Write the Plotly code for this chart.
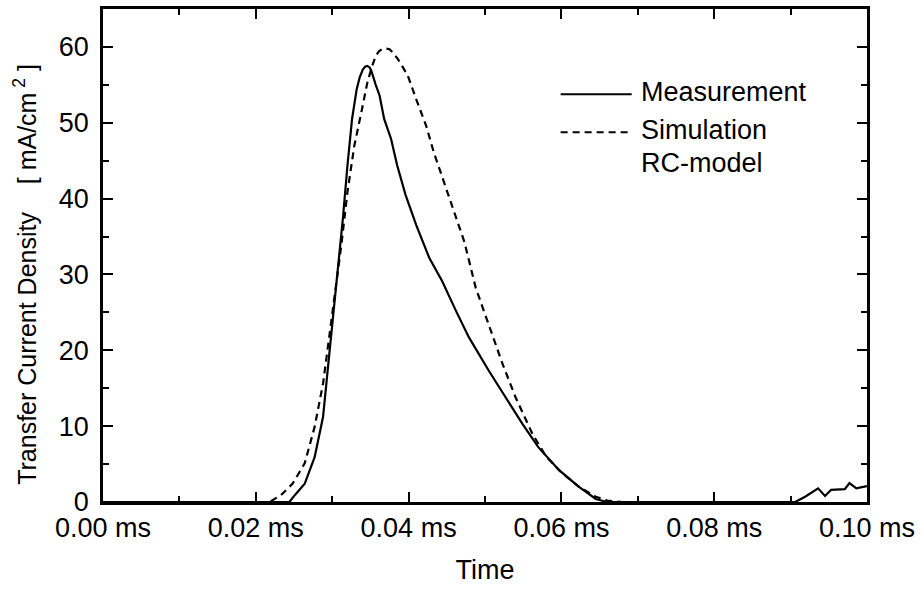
import plotly.graph_objects as go

# Measurement (time in ms, current density in mA/cm^2)
meas_t = [0.0, 0.0244, 0.0251, 0.0264, 0.0277, 0.0288, 0.0294, 0.0301, 0.0309, 0.0314,
          0.0320, 0.0326, 0.0332, 0.0336, 0.0340, 0.0343, 0.0346, 0.0349, 0.0351, 0.0353,
          0.0357, 0.0362, 0.0368, 0.0377, 0.0385, 0.0396, 0.0410, 0.0427, 0.0444, 0.0462,
          0.0479, 0.0505, 0.0527, 0.0549, 0.0570, 0.0597, 0.0623, 0.0645, 0.0660, 0.0906,
          0.0919, 0.0927, 0.0936, 0.0945, 0.0953, 0.0971, 0.0977, 0.0986, 0.1000]
meas_y = [0.0, 0.0, 0.9, 2.4, 5.9, 11.2, 17.3, 24.3, 33.0, 37.4,
          44.4, 50.5, 54.4, 56.0, 57.0, 57.4, 57.5, 57.3, 56.9, 56.2,
          55.0, 53.6, 50.5, 47.9, 44.4, 40.5, 36.5, 32.2, 29.1, 25.2,
          21.7, 17.3, 13.8, 10.3, 7.2, 4.2, 2.0, 0.4, 0.0, 0.0,
          0.7, 1.2, 1.8, 0.8, 1.6, 1.7, 2.5, 1.8, 2.1]

# Simulation RC-model
sim_t = [0.0, 0.0218, 0.0233, 0.0248, 0.0264, 0.0277, 0.0288, 0.0296, 0.0312, 0.0320,
         0.0329, 0.0339, 0.0346, 0.0352, 0.0357, 0.0361, 0.0365, 0.0370, 0.0375, 0.0380,
         0.0386, 0.0392, 0.0399, 0.0410, 0.0423, 0.0433, 0.0446, 0.0460, 0.0473, 0.0488,
         0.0505, 0.0523, 0.0540, 0.0562, 0.0580, 0.0600, 0.0623, 0.0645, 0.0660, 0.0680,
         0.0700]
sim_y = [0.0, 0.0, 0.9, 2.4, 5.1, 9.9, 15.6, 21.7, 33.9, 40.9,
         47.0, 51.8, 55.3, 57.4, 58.8, 59.4, 59.7, 59.8, 59.7, 59.2,
         58.4, 57.4, 56.2, 53.1, 49.6, 46.1, 42.2, 38.3, 34.3, 28.2,
         23.4, 18.2, 13.8, 9.0, 6.0, 3.9, 2.0, 0.7, 0.2, 0.0,
         0.0]

x_tickvals = [0.0, 0.02, 0.04, 0.06, 0.08, 0.10]
x_ticktext = ["0.00 ms", "0.02 ms", "0.04 ms", "0.06 ms", "0.08 ms", "0.10 ms"]
y_tickvals = [0, 10, 20, 30, 40, 50, 60]

FONT = "Liberation Sans, Arial, Helvetica, sans-serif"
FS = 27

fig = go.Figure()
fig.add_trace(go.Scatter(x=meas_t, y=meas_y, mode="lines", name="Measurement",
                         line=dict(color="black", width=2.2), showlegend=False))
fig.add_trace(go.Scatter(x=sim_t, y=sim_y, mode="lines", name="Simulation RC-model",
                         line=dict(color="black", width=2.2, dash="7px,5px"), showlegend=False))

axis_common = dict(
    showgrid=False, zeroline=False, showline=True, linecolor="black", linewidth=2.5,
    mirror="allticks", ticks="inside", ticklen=10, tickwidth=2, tickcolor="black",
    tickfont=dict(family=FONT, size=FS, color="black"),
)

fig.update_xaxes(range=[0, 0.1], tickvals=x_tickvals, ticktext=x_ticktext,
                 minor=dict(dtick=0.01, ticks="inside", ticklen=6, tickwidth=2, tickcolor="black"),
                 ticklabelstandoff=0,
                 title=dict(text="Time", font=dict(family=FONT, size=FS, color="black"), standoff=18),
                 **axis_common)
fig.update_yaxes(range=[0, 65], tickvals=y_tickvals,
                 minor=dict(dtick=5, ticks="inside", ticklen=6, tickwidth=2, tickcolor="black"),
                 ticklabelstandoff=6,
                 **axis_common)

# y-axis title as annotation
fig.add_annotation(
    text="Transfer Current Density\u00a0\u00a0\u00a0\u00a0[ mA/cm<sup>\u00a02</sup> ]",
    xref="paper", yref="paper", x=-0.102, y=0.461, xanchor="center", yanchor="middle",
    textangle=-90, showarrow=False, font=dict(family=FONT, size=25, color="black"))

# legend drawn inside plot
leg_x0, leg_x1, leg_tx = 0.599, 0.692, 0.702
fig.add_shape(type="line", xref="paper", yref="paper", x0=leg_x0, x1=leg_x1, y0=0.827, y1=0.827,
              line=dict(color="black", width=2))
fig.add_shape(type="line", xref="paper", yref="paper", x0=leg_x0, x1=leg_x1, y0=0.750, y1=0.750,
              line=dict(color="black", width=2, dash="7px,5px"))
for txt, yy in [("Measurement", 0.831), ("Simulation", 0.754), ("RC-model", 0.687)]:
    fig.add_annotation(text=txt, xref="paper", yref="paper", x=leg_tx, y=yy,
                       xanchor="left", yanchor="middle", showarrow=False,
                       font=dict(family=FONT, size=FS, color="black"))

fig.update_layout(
    width=921, height=589,
    margin=dict(l=103, r=52, t=6, b=87),
    paper_bgcolor="white", plot_bgcolor="white",
    font=dict(family=FONT, color="black"),
)

fig.write_html("out.html")
